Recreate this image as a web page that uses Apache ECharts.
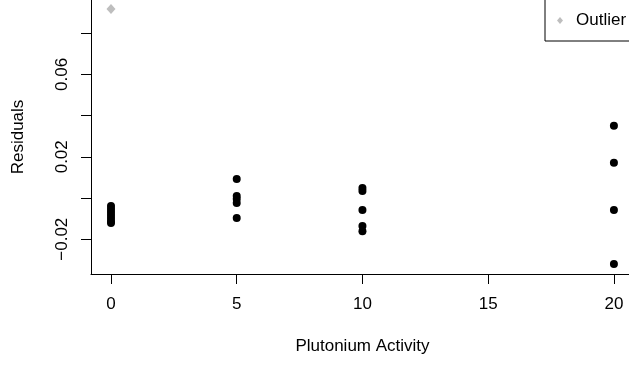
<!DOCTYPE html>
<html>
<head>
<meta charset="utf-8">
<script src="https://cdn.jsdelivr.net/npm/echarts@6/dist/echarts.min.js"></script>
<style>
  html, body { margin: 0; padding: 0; background: #fff; }
  #chart { width: 629px; height: 366px; }
</style>
</head>
<body>
<div id="chart"></div>
<script>
// Valeurs
const activity = [0, 0, 0, 0, 0, 0, 0, 5, 5, 5, 5, 5, 10, 10, 10, 10, 10, 20, 20, 20, 20];
const residuals = [
  -0.0039, -0.0053, -0.0068, -0.0083, -0.0097, -0.0112, -0.0121,
  0.0092, 0.001, -0.0005, -0.0024, -0.0097,
  0.0049, 0.0034, -0.0058, -0.0136, -0.0162,
  0.0351, 0.0171, -0.0058, -0.032
];
const outlierActivity = [0];
const outlierResidual = [0.0917];

const xTicks = [0, 5, 10, 15, 20];
const yTicks = [-0.02, 0, 0.02, 0.04, 0.06, 0.08];
const yLabels = [-0.02, 0.02, 0.06];

const font = "Liberation Sans, Arial, Helvetica, sans-serif";

const myChart = echarts.init(document.getElementById("chart"));

myChart.setOption({
  animation: false,
  textStyle: { fontFamily: font, color: "#000" },
  grid: { left: 91, right: 0, top: 0, bottom: 92 },
  legend: {
    data: ["Outlier"],
    left: 545,
    top: -10,
    padding: [22, 40, 12, 12],
    borderColor: "#000",
    borderWidth: 1,
    borderRadius: 0,
    itemWidth: 6,
    itemHeight: 7,
    textStyle: { fontSize: 17, color: "#000", fontFamily: font, padding: [0, 0, 0, 8] },
  },
  xAxis: {
    type: "value",
    min: -0.795,
    max: 20.6,
    name: "Plutonium Activity",
    nameLocation: "middle",
    nameGap: 64,
    nameTextStyle: { fontSize: 17, color: "#000", fontFamily: font, padding: [0, 0, 0, 5] },
    axisLine: { show: true, onZero: false, lineStyle: { color: "#000", width: 1 } },
    axisTick: { show: true, length: 10, customValues: xTicks, lineStyle: { color: "#000" } },
    axisLabel: {
      customValues: xTicks,
      margin: 22,
      fontSize: 17,
      color: "#000",
      fontFamily: font,
    },
    splitLine: { show: false },
  },
  yAxis: {
    type: "value",
    min: -0.0369,
    max: 0.0961,
    name: "Residuals",
    nameLocation: "middle",
    nameGap: 64,
    nameRotate: 90,
    nameTextStyle: { fontSize: 17, color: "#000", fontFamily: font },
    axisLine: { show: true, onZero: false, lineStyle: { color: "#000", width: 1 } },
    axisTick: { show: true, length: 10, customValues: yTicks, lineStyle: { color: "#000" } },
    axisLabel: {
      customValues: yLabels,
      rotate: 90,
      margin: 20,
      fontSize: 17,
      color: "#000",
      fontFamily: font,
      formatter: (v) => v.toFixed(2).replace("-", "\u2212"),
    },
    splitLine: { show: false },
  },
  series: [
    {
      name: "Residuals",
      type: "scatter",
      symbol: "circle",
      symbolSize: 8,
      itemStyle: { color: "#000", opacity: 1 },
      data: activity.map((x, i) => [x, residuals[i]]),
    },
    {
      name: "Outlier",
      type: "scatter",
      symbol: "diamond",
      symbolSize: [9, 10],
      itemStyle: { color: "#bebebe", opacity: 1 },
      data: outlierActivity.map((x, i) => [x, outlierResidual[i]]),
    },
  ],
});
</script>
</body>
</html>
